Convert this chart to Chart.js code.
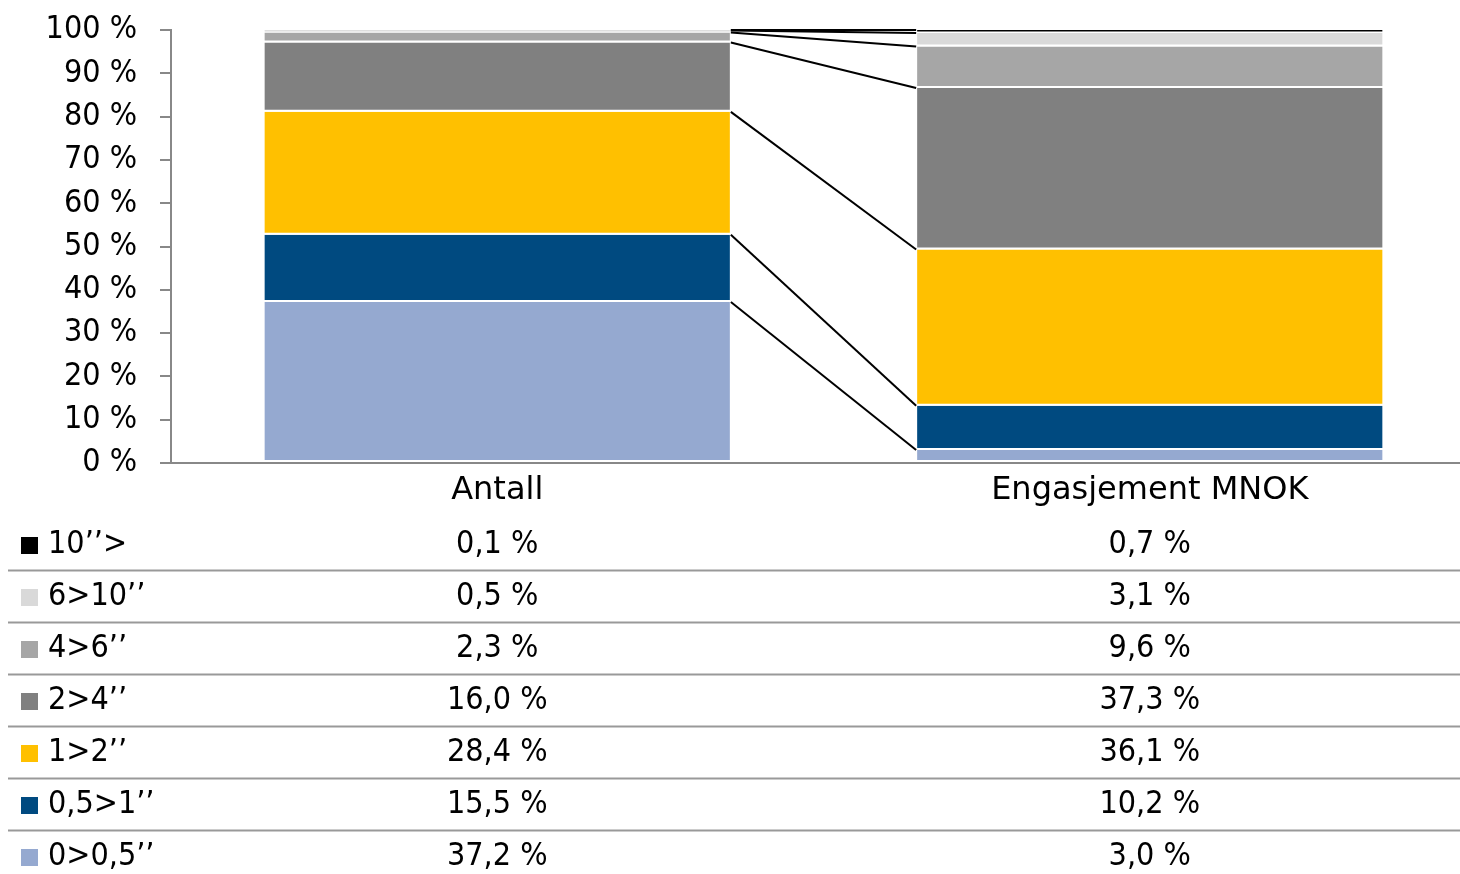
<!DOCTYPE html>
<html>
<head>
<meta charset="utf-8">
<script src="https://cdn.jsdelivr.net/npm/chart.js@4"></script>
<style>
  html, body { margin: 0; padding: 0; background: #fff; overflow: hidden; }
  #wrap { width: 1476px; height: 874px; }
</style>
</head>
<body>
<div id="wrap"><canvas id="chart"></canvas></div>
<script>
// categories and series (bottom of the stack first)
let categories = ["Antall", "Engasjement MNOK"];
let seriesNames = ["0>0,5\u2019\u2019", "0,5>1\u2019\u2019", "1>2\u2019\u2019", "2>4\u2019\u2019", "4>6\u2019\u2019", "6>10\u2019\u2019", "10\u2019\u2019>"];
let antall = [37.2, 15.5, 28.4, 16.0, 2.3, 0.5, 0.1];
let engasjement = [3.0, 10.2, 36.1, 37.3, 9.6, 3.1, 0.7];
let seriesColors = ["#95A9D0", "#004A80", "#FFC000", "#808080", "#A6A6A6", "#D9D9D9", "#000000"];
let yTicks = [0, 10, 20, 30, 40, 50, 60, 70, 80, 90, 100];

const FONT = "'DejaVu Sans Condensed', 'DejaVu Sans', sans-serif";
const WIDE_FONT = "'DejaVu Sans', sans-serif";

function fmt(v) {
    return v.toFixed(1).replace(".", ",") + " %";
}

let datasets = seriesNames.map(function(name, i) {
    return {
        label: name,
        data: [antall[i], engasjement[i]],
        backgroundColor: seriesColors[i],
        borderColor: "#ffffff",
        borderWidth: { top: 0, bottom: 2, left: 1, right: 1 },
        borderSkipped: false,
        barPercentage: 0.716,
        categoryPercentage: 1.0
    };
});

// series lines between the two stacks, like Excel
let seriesLines = {
    id: "seriesLines",
    afterDatasetsDraw(chart) {
        let ctx = chart.ctx;
        ctx.save();
        ctx.strokeStyle = "#000";
        ctx.lineWidth = 2;
        chart.data.datasets.forEach(function(ds, i) {
            let meta = chart.getDatasetMeta(i);
            let a = meta.data[0], b = meta.data[1];
            ctx.beginPath();
            ctx.moveTo(a.x + a.width / 2, a.y);
            ctx.lineTo(b.x - b.width / 2, b.y);
            ctx.stroke();
        });
        ctx.restore();
    }
};

// data table with legend keys below the chart
let dataTable = {
    id: "dataTable",
    afterDraw(chart) {
        let ctx = chart.ctx;
        let x = chart.scales.x;
        let firstRow = chart.chartArea.bottom + 82;
        let rowH = 52;
        ctx.save();
        ctx.font = "32px " + FONT;
        ctx.textBaseline = "middle";
        for (let r = 0; r < seriesNames.length; r++) {
            let i = seriesNames.length - 1 - r;
            let cy = firstRow + r * rowH;
            ctx.fillStyle = seriesColors[i];
            ctx.fillRect(21, cy - 8, 17, 17);
            ctx.fillStyle = "#000";
            ctx.textAlign = "left";
            ctx.fillText(seriesNames[i], 48, cy);
            ctx.textAlign = "center";
            ctx.fillText(fmt(antall[i]), x.getPixelForValue(0), cy);
            ctx.fillText(fmt(engasjement[i]), x.getPixelForValue(1), cy);
            if (r < seriesNames.length - 1) {
                ctx.strokeStyle = "#999";
                ctx.lineWidth = 2;
                ctx.beginPath();
                ctx.moveTo(8, cy + 25.5);
                ctx.lineTo(chart.width, cy + 25.5);
                ctx.stroke();
            }
        }
        ctx.restore();
    }
};

let ctx = document.getElementById("chart").getContext("2d");
let myChart = new Chart(ctx, {
    type: "bar",
    data: { labels: categories, datasets: datasets },
    plugins: [seriesLines, dataTable],
    options: {
        responsive: true,
        maintainAspectRatio: false,
        animation: false,
        layout: { padding: { top: 30, left: 0, right: 0, bottom: 0 } },
        plugins: {
            legend: { display: false },
            tooltip: { enabled: false }
        },
        scales: {
            x: {
                stacked: true,
                grid: { display: false, drawTicks: false },
                border: { display: true, color: "#888", width: 2 },
                ticks: { color: "#000", font: { size: 32, family: WIDE_FONT }, padding: 8 },
                afterFit: function(scale) {
                    scale.height = 411;
                    scale.paddingLeft = 0;
                    scale.paddingRight = 0;
                }
            },
            y: {
                stacked: true,
                min: 0,
                max: 100,
                afterBuildTicks: function(scale) {
                    scale.ticks = yTicks.map(function(v) { return { value: v }; });
                },
                grid: { drawOnChartArea: false, drawTicks: true, tickLength: 11, color: "#888", lineWidth: 2 },
                border: { display: true, color: "#888", width: 2 },
                ticks: {
                    color: "#000",
                    font: { size: 32, family: FONT },
                    padding: 23,
                    callback: function(v) { return v + " %"; }
                },
                afterFit: function(scale) {
                    scale.width = 171;
                    scale.paddingTop = 0;
                    scale.paddingBottom = 0;
                }
            }
        }
    }
});
</script>
</body>
</html>
